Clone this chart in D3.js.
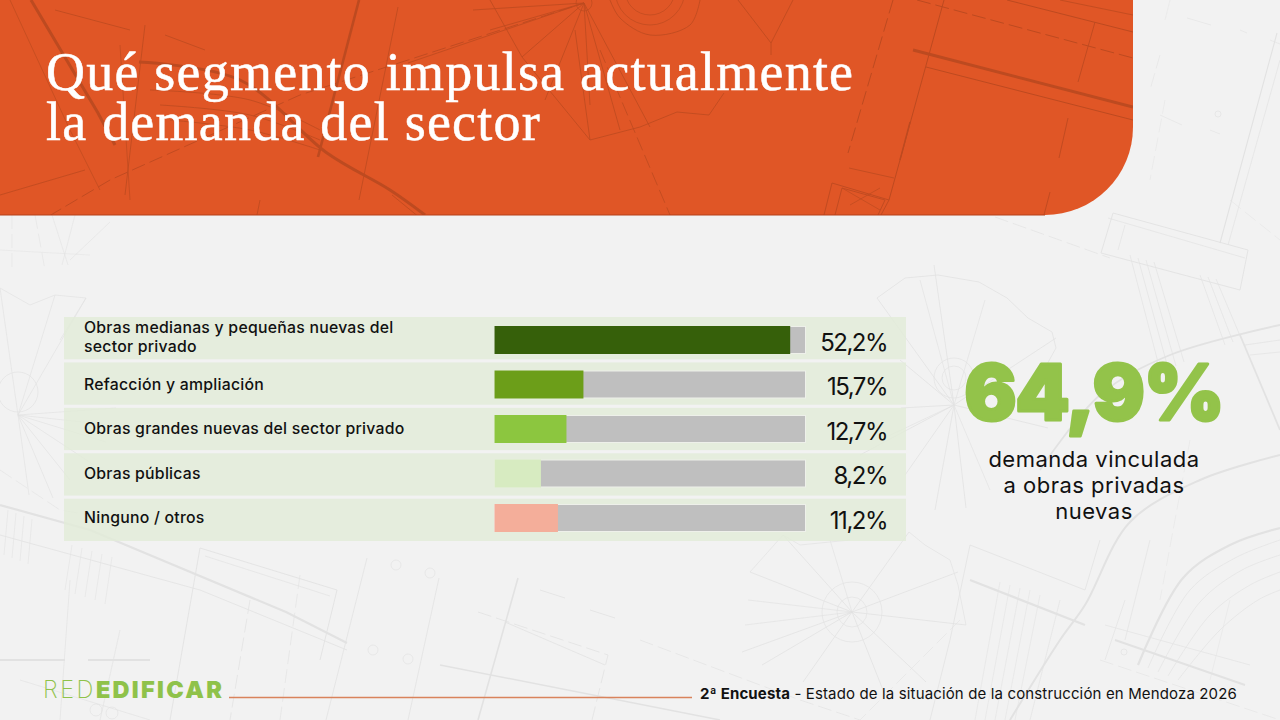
<!DOCTYPE html>
<html lang="es">
<head>
<meta charset="utf-8">
<title>Qué segmento impulsa actualmente la demanda del sector</title>
<script src="https://cdn.jsdelivr.net/npm/d3@7/dist/d3.min.js"></script>
<style>
  html, body { margin: 0; padding: 0; background: #f2f2f2; }
  svg { display: block; }
  text { font-family: Inter, "Open Sans", sans-serif; fill: #111; }
</style>
</head>
<body>
<svg id="slide" width="1280" height="720" viewBox="0 0 1280 720"></svg>
<script>
// Survey results
const categories = [
  "Obras medianas y pequeñas nuevas del\nsector privado",
  "Refacción y ampliación",
  "Obras grandes nuevas del sector privado",
  "Obras públicas",
  "Ninguno / otros"
];
const shares = [52.2, 15.7, 12.7, 8.2, 11.2];
const barColors = ["#36600a", "#6c9e19", "#8cc63f", "#d7ebc1", "#f4ae9a"];
const scaleMax = 54.9;
const headline = 64.9;
const titleLines = ["Qué segmento impulsa actualmente", "la demanda del sector"];
const noteLines = ["demanda vinculada", "a obras privadas", "nuevas"];

// Blueprint linework behind the slide: [points, dashed?, weight, smooth?]
const paperLines = [
  // lower left plan
  [[[0,505],[90,530],[286,612],[347,643]],0,2.2],[[[0,535],[200,590],[347,650]],0,.8],
  [[[200,548],[337,590],[320,660]],0,.9],[[[200,548],[170,720]],0,.9],[[[205,556],[330,596]],0,.7],
  [[[367,558],[326,720]],0,.8],[[[439,578],[408,720]],0,.8],[[[518,578],[478,720]],0,1.6],
  [[[478,612],[608,655],[592,720]],1,.8],[[[505,622],[605,665]],0,.8],[[[440,665],[720,720]],0,1.5],
  [[[70,580],[60,720]],0,.7],[[[120,630],[100,720]],0,.7],[[[0,660],[65,660]],0,2],[[[88,660],[150,660]],0,2],
  [[[20,680],[150,720]],0,.7],[[[250,600],[230,720]],1,.8],[[[300,575],[280,720]],1,.7],
  [[[540,590],[565,598]],0,.8],[[[590,610],[615,618]],0,.8],
  // stair hatching, lower left
  [[[8,510],[4,555]],0,.6],[[[16,513],[12,558]],0,.6],[[[24,516],[20,561]],0,.6],[[[32,519],[28,564]],0,.6],
  [[[72,545],[65,590]],0,.6],[[[82,548],[75,594]],0,.6],[[[92,551],[85,597]],0,.6],[[[102,554],[95,600]],0,.6],[[[112,557],[105,604]],0,.6],
  // top left fragments below the header
  [[[12,215],[12,270]],1,.6],[[[35,215],[45,270]],1,.6],[[[52,215],[68,265]],0,.6],[[[75,215],[62,265]],0,.6],[[[110,222],[70,260]],0,.6],[[[0,250],[90,255]],0,.5],
  // left fan
  [[[18,415],[116,408]],0,.7],[[[18,415],[106,442]],0,.7],[[[18,415],[94,465]],0,.7],[[[18,415],[53,498]],0,.7],[[[18,415],[29,495]],0,.7],
  [[[18,415],[86,298]],0,.7],[[[18,415],[55,295]],0,.7],[[[18,415],[0,288]],0,.7],[[[18,415],[70,480]],0,.7],[[[18,415],[110,425]],0,.7],
  [[[0,288],[30,305],[55,295],[86,298],[60,340]],0,.7],[[[0,470],[60,510],[120,520]],1,.6],
  // central right fan
  [[[954,405],[901,408]],0,.8],[[[954,405],[934,265]],0,.8],[[[954,405],[877,298]],0,.8],[[[954,405],[1056,338]],0,.8],[[[954,405],[966,508]],0,.8],
  [[[954,405],[905,475]],0,.8],[[[954,405],[860,455]],0,.8],[[[954,405],[1048,428]],0,.8],[[[954,405],[900,360]],0,.8],[[[954,405],[935,510]],0,.8],
  [[[954,405],[920,280]],0,.7],[[[954,405],[985,300]],0,.7],[[[954,405],[880,440]],0,.7],[[[954,405],[990,490]],0,.7],
  [[[877,298],[905,278],[938,275],[979,282],[1007,298],[1028,318],[1052,332],[1056,348],[1030,395]],0,.8],
  // lower fan
  [[[852,612],[750,572]],0,.8],[[[852,612],[742,652]],0,.8],[[[852,612],[783,535]],0,.8],[[[852,612],[909,532]],0,.8],[[[852,612],[958,572]],0,.8],
  [[[852,612],[966,625]],0,.8],[[[852,612],[926,682]],0,.8],[[[852,612],[803,682]],0,.8],[[[852,612],[762,665]],0,.8],[[[852,612],[885,695]],0,.8],
  [[[852,612],[745,625]],0,.7],[[[852,612],[748,600]],0,.7],[[[852,612],[830,540]],0,.7],
  [[[750,572],[783,535],[800,545],[850,540]],0,.7],[[[909,532],[925,545],[950,560],[958,585],[966,625]],0,.7],
  [[[640,640],[800,700],[860,720]],1,.7],[[[960,620],[880,700],[860,720]],1,.6],
  // plan block around the lower arcs
  [[[970,545],[1085,590],[1100,540]],0,.8],[[[970,580],[1085,625]],0,2.2],[[[970,545],[950,640],[930,720]],0,.8],[[[1060,600],[1030,720]],0,.7],
  [[[1040,595],[1015,720]],0,.6],[[[1030,590],[1005,720]],0,.6],[[[1020,588],[995,720]],0,.6],[[[1010,585],[985,720]],0,.6],[[[1000,582],[975,720]],0,.6],
  [[[1115,640],[1245,685]],0,2],[[[1105,625],[1250,665]],0,.7],[[[1125,600],[1105,660]],0,.7],[[[1150,540],[1125,640]],0,.7],
  // top right plan
  [[[1113,213],[1248,250]],0,.9],[[[1101,253],[1240,290]],0,.9],[[[1113,213],[1101,253]],0,.9],[[[1248,250],[1240,290]],0,.9],[[[1108,218],[1245,258]],0,.7],
  [[[1125,225],[1118,250]],0,.7],[[[1130,255],[1160,370]],0,.7],[[[1138,258],[1168,368]],0,.7],[[[1146,260],[1176,366]],0,.7],[[[1154,262],[1184,362]],0,.7],
  [[[1200,275],[1225,345]],0,.7],[[[1208,277],[1233,342]],0,.7],[[[1216,279],[1241,338]],0,.7],
  [[[1220,243],[1277,33]],0,1.1],[[[1228,245],[1280,60]],0,.7],[[[995,217],[1110,258]],1,.7],[[[1230,200],[1280,240]],1,.5],
  [[[1187,18],[1211,25]],0,.6],[[[1240,30],[1247,33]],0,.6],[[[1160,115],[1182,125]],0,.6],[[[1210,130],[1220,134]],0,.6],[[[1160,55],[1150,90]],1,.6],[[[1165,100],[1150,180]],1,.5],
  [[[1170,0],[1165,20]],0,.5],[[[1270,40],[1280,44]],0,.6],
  // sweeping arcs, lower right
  [[[1010,720],[1060,640],[1085,605],[1130,522],[1200,480],[1280,455]],0,2,1],
  [[[1138,665],[1183,578],[1230,545],[1280,528]],0,2.2,1],[[[1148,668],[1190,590],[1235,558],[1280,540]],0,.7,1],
  [[[1158,672],[1200,602],[1242,570],[1280,555]],0,.7,1],[[[1168,676],[1210,615],[1250,585],[1280,572]],0,.7,1],[[[1178,680],[1220,630],[1258,600],[1280,590]],0,.7,1],
  [[[1040,470],[1100,395],[1170,355],[1280,325]],0,1.8,1],[[[1240,335],[1280,430]],0,1.8,1],[[[1245,345],[1280,340]],0,.7],[[[1250,355],[1280,352]],0,.7],
  [[[1100,660],[1250,710],[1280,720]],1,.6],[[[1190,440],[1160,600]],1,.5],[[[1230,600],[1210,680]],0,.5]
];
const paperCircles = [[954,378,20],[954,378,12],[18,392,20],[852,612,30],[852,612,15],[396,565,5],[430,573,5],[373,650,5],[408,659,5],[96,710,6],[112,713,6],[1124,652,3],[1218,114,3]];

// Blueprint linework on the header band
const headerLines = [
  [[[31,0],[98,113],[115,145]],0,3],[[[10,0],[70,130],[100,190]],0,.7],[[[359,0],[318,157]],0,2.6],[[[398,7],[359,200]],0,.8],
  [[[139,62],[240,80],[327,153],[390,190],[425,215]],0,3,1],[[[150,90],[250,100],[320,130]],0,.8,1],[[[160,105],[250,115],[320,140]],0,.8,1],[[[170,120],[250,130],[320,150]],0,.8,1],
  [[[0,245],[110,180],[300,95],[584,3]],1,.9],[[[0,195],[85,170]],0,.8],[[[55,10],[130,30]],0,.8],[[[165,35],[205,50]],0,.8],[[[65,225],[105,232]],0,.8],[[[145,242],[180,255]],0,.8],
  [[[392,195],[425,222]],0,.8],[[[145,25],[125,195]],0,.8],[[[260,200],[250,250]],0,.8],[[[250,240],[300,270]],0,.8],[[[120,45],[130,200]],0,.7],
  [[[584,3],[473,10]],0,.8],[[[584,3],[408,63]],0,.8],[[[584,3],[522,57]],0,.8],[[[584,3],[545,100]],0,.8],[[[584,3],[590,105]],0,.8],[[[584,3],[490,30]],0,.8],[[[584,3],[620,130]],0,.8],[[[584,3],[650,127]],0,.8],
  [[[490,0],[522,57],[590,140]],0,.8],[[[575,30],[590,140]],0,.8],[[[600,50],[670,215]],1,.8],
  [[[590,140],[640,127],[677,112],[709,115],[724,93]],0,.8],
  [[[793,0],[771,43],[738,0]],0,.8],[[[771,43],[771,55]],0,.8],[[[610,0],[620,18],[650,35],[690,25],[700,0]],0,.8,1],
  [[[913,50],[1133,107]],0,3],[[[926,67],[1133,120]],0,1],[[[917,0],[1133,58]],1,1],[[[1007,0],[1133,32]],0,1],[[[1060,0],[1133,15]],0,.8],
  [[[944,0],[889,200]],0,1],[[[893,0],[848,153]],1,1],[[[1095,22],[1078,82]],0,.9],[[[1068,118],[1059,158]],0,.9],[[[910,122],[900,160]],0,1.4],
  [[[849,168],[894,178]],0,.8],[[[832,183],[889,200],[881,215]],0,.9],[[[832,183],[824,215]],0,.9],[[[842,188],[835,215]],0,.9],[[[842,188],[885,200],[878,215]],0,.9],[[[842,188],[880,210]],0,.7],[[[880,188],[850,205]],0,.7],[[[1050,192],[1044,215]],0,.9]
];
const headerCircles = [[584,3,8],[650,-10,35],[650,-10,25]];

const width = 1280, height = 720;
const svg = d3.select("#slide");

// Header shape: square on three corners, rounded at the bottom right
const headerRight = 1133, headerBottom = 215, headerRadius = 88;
const headerPath = d3.path();
headerPath.moveTo(0, 0);
headerPath.lineTo(headerRight, 0);
headerPath.lineTo(headerRight, headerBottom - headerRadius);
headerPath.arcTo(headerRight, headerBottom, headerRight - headerRadius, headerBottom, headerRadius);
headerPath.lineTo(0, headerBottom);
headerPath.closePath();

svg.append("rect").attr("width", width).attr("height", height).attr("fill", "#f2f2f2");

const straight = d3.line();
const smooth = d3.line().curve(d3.curveCatmullRom);

function drawLinework(layer, lines, circles, color) {
  layer.selectAll("path.ink").data(lines).join("path")
    .attr("class", "ink")
    .attr("d", d => (d[3] ? smooth : straight)(d[0]))
    .attr("fill", "none")
    .attr("stroke", color)
    .attr("stroke-width", d => d[2])
    .attr("stroke-dasharray", d => d[1] ? "14 5" : null);
  layer.selectAll("circle.ink").data(circles).join("circle")
    .attr("class", "ink")
    .attr("cx", d => d[0]).attr("cy", d => d[1]).attr("r", d => d[2])
    .attr("fill", "none").attr("stroke", color).attr("stroke-width", .7);
}

drawLinework(svg.append("g"), paperLines, paperCircles, "#e2e2e2");

// Header band with its own linework
const defs = svg.append("defs");
defs.append("clipPath").attr("id", "header-clip").append("path").attr("d", headerPath.toString());
svg.append("path").attr("d", headerPath.toString()).attr("fill", "#e05626");
drawLinework(svg.append("g").attr("clip-path", "url(#header-clip)"), headerLines, headerCircles, "#bd4a20");
svg.append("line").attr("x1", 0).attr("x2", headerRight - headerRadius).attr("y1", 215).attr("y2", 215)
  .attr("stroke", "#b5401a").attr("stroke-width", 1);

// Title, one text element with a tspan per line
svg.append("text")
  .style("font-family", '"Liberation Serif", serif')
  .style("font-size", "54px")
  .style("letter-spacing", "1.22px")
  .style("fill", "#fff")
  .style("stroke", "#fff")
  .style("stroke-width", "0.5px")
  .selectAll("tspan").data(titleLines).join("tspan")
  .attr("x", 46)
  .attr("y", (d, i) => 90 + i * 50)
  .text(d => d);

// Scales
const rowScale = d3.scaleBand().domain(d3.range(categories.length)).range([317, 541]).paddingInner(0.07);
const barCenter = d3.scalePoint().domain(d3.range(categories.length)).range([340, 518]);
const x = d3.scaleLinear().domain([0, scaleMax]).range([494.5, 805.5]);
const percent = d3.formatLocale({ decimal: ",", thousands: ".", grouping: [3], currency: ["", ""] }).format(".1f");

const rows = svg.append("g").selectAll("g").data(categories).join("g");

rows.append("rect")
  .attr("x", 64).attr("width", 842)
  .attr("y", (d, i) => rowScale(i)).attr("height", rowScale.bandwidth())
  .attr("fill", "#e2ebd8").attr("fill-opacity", 0.82);

// Category labels, one tspan per written line
rows.append("text")
  .attr("y", (d, i) => d.includes("\n") ? barCenter(i) - 7 : barCenter(i) + 5)
  .style("font-size", "15.8px").style("font-weight", 500).style("letter-spacing", "0.25px")
  .selectAll("tspan").data(d => d.split("\n")).join("tspan")
  .attr("x", 84).attr("dy", (d, i) => i ? 19 : 0).text(d => d);

// Full-length track
rows.append("rect")
  .attr("x", x(0)).attr("width", x(scaleMax) - x(0))
  .attr("y", (d, i) => barCenter(i) - 13.5).attr("height", 27)
  .attr("fill", "#bfbfbf").attr("stroke", "#eef0ea").attr("stroke-width", 1);

// Value bar
rows.append("rect")
  .attr("x", x(0)).attr("width", (d, i) => x(shares[i]) - x(0))
  .attr("y", (d, i) => barCenter(i) - 14).attr("height", 28)
  .attr("fill", (d, i) => barColors[i]);

// Value labels
rows.append("text")
  .attr("x", 887).attr("text-anchor", "end")
  .attr("y", (d, i) => barCenter(i) + 10.5)
  .style("font-size", "24px").style("font-weight", 400).style("letter-spacing", "-1.5px")
  .text((d, i) => percent(shares[i]) + "%");

// Headline figure
svg.append("text")
  .attr("x", 1094).attr("y", 420).attr("text-anchor", "middle")
  .style("font-size", "77px").style("font-weight", 900).style("letter-spacing", "-0.8px")
  .style("fill", "#93c34a").style("stroke", "#93c34a").style("stroke-width", "3px").style("stroke-linejoin", "round")
  .text(percent(headline) + "%");

svg.append("g").selectAll("text").data(noteLines).join("text")
  .attr("x", 1094).attr("y", (d, i) => 467 + i * 26).attr("text-anchor", "middle")
  .style("font-size", "22px").style("font-weight", 400).style("letter-spacing", "0.5px")
  .text(d => d);

// Footer
const brand = svg.append("text").attr("x", 43).attr("y", 698)
  .style("font-size", "23.5px").style("fill", "#8fc24a");
brand.append("tspan").style("font-weight", 200).style("letter-spacing", "2.5px").text("RED");
brand.append("tspan").style("font-weight", 900).style("letter-spacing", "2.3px").text("EDIFICAR");

svg.append("line").attr("x1", 229).attr("x2", 692).attr("y1", 697.5).attr("y2", 697.5)
  .attr("stroke", "#d9835c").attr("stroke-width", 1.5);

const foot = svg.append("text").attr("x", 700).attr("y", 699).style("font-size", "15px").style("letter-spacing", "0.14px");
foot.append("tspan").style("font-weight", 700).text("2ª Encuesta");
foot.append("tspan").style("font-weight", 400).text(" - Estado de la situación de la construcción en Mendoza 2026");
</script>
</body>
</html>
